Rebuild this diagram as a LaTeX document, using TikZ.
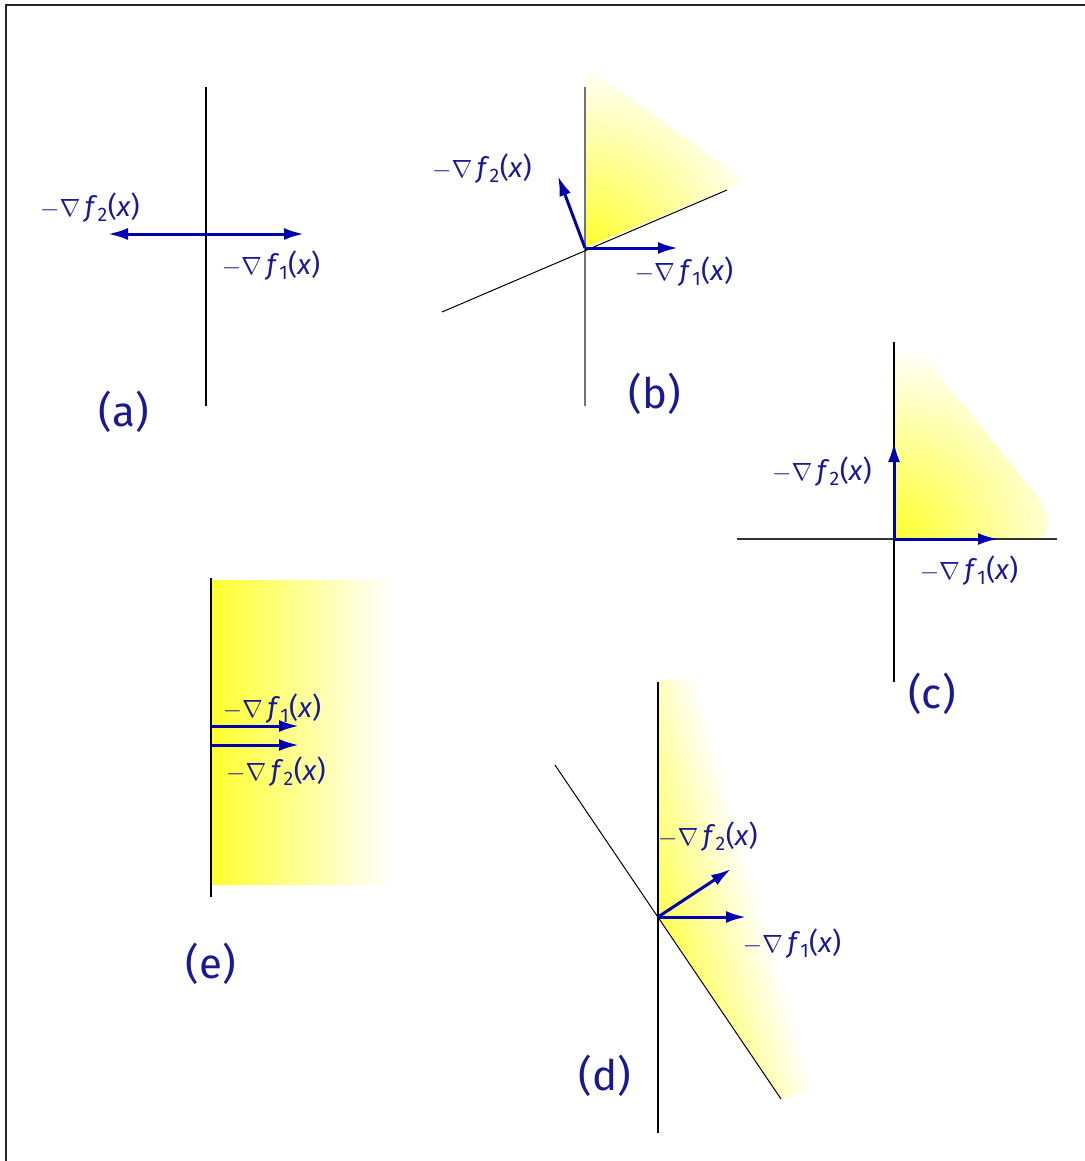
\documentclass[tikz,border=0pt]{standalone}
\usepackage{fontspec}
\setmainfont{Fira Sans}
\usetikzlibrary{arrows.meta,calc}
\definecolor{lblblue}{RGB}{25,25,150}
\definecolor{arrblue}{RGB}{0,0,175}
\definecolor{shadeY}{RGB}{255,255,45}
\newcommand\gradlab[1]{$-\nabla$\,\textit{f}\textsubscript{#1}(\textit{x})}
\tikzset{
  axisline/.style={line width=1.1pt, black},
  vec/.style={line width=3pt, arrblue, -{Latex[length=20pt,width=12pt]}},
  lbl/.style={text=lblblue, font=\fontsize{28}{30}\selectfont, inner sep=0pt},
  panel/.style={text=lblblue, font=\fontsize{42}{46}\selectfont, inner sep=0pt},
}
\begin{document}
\begin{tikzpicture}[x=1pt,y=-1pt]
\useasboundingbox (0,0) rectangle (1084,1161);
% frame
\coordinate (F1) at (6,1175);
\coordinate (F2) at (1100,5);
\draw[line width=1.5pt, black!85] (F1) |- (F2);

% ---------------- panel (a)
\coordinate (Oa) at (206,234);
\coordinate (Va1) at (206,87);
\coordinate (Va2) at (206,406);
\coordinate (Ta1) at (304,234);
\coordinate (Ta2) at (108,234);
\draw[axisline] (Va1) -- (Va2);
\draw[vec] (Oa) -- (Ta1);
\draw[vec] (Oa) -- (Ta2);
\node[lbl] (la2) at (90,208) {\gradlab{2}};
\node[lbl] (la1) at (271,266) {\gradlab{1}};
\node[panel] (pa) at (124,412) {(a)};

% ---------------- panel (b)
\coordinate (Ob) at (585,248);
\begin{scope}
  \clip (585,248) -- (585,66) -- (746,181) -- cycle;
  \shade[inner color=shadeY, outer color=white] (Ob) circle (185pt);
\end{scope}
\coordinate (Vb1) at (585,87);
\coordinate (Vb2) at (585,406);
\coordinate (Db1) at (442,312);
\coordinate (Db2) at (727,190);
\draw[line width=1.3pt, black!55] (Vb1) -- (Vb2);
\draw[line width=1pt, black] (Db1) -- (Db2);
\coordinate (Tb1) at (678,248);
\coordinate (Tb2) at (558,176);
\draw[vec] (Ob) -- (Tb1);
\draw[vec] (Ob) -- (Tb2);
\node[lbl] (lb2) at (482,169) {\gradlab{2}};
\node[lbl] (lb1) at (684,272) {\gradlab{1}};
\node[panel] (pb) at (655,394) {(b)};

% ---------------- panel (c)
\coordinate (Oc) at (894,539);
\begin{scope}
  \clip (894,539) -- (894,350) .. controls (894,336) and (910,336) .. (924,356)
        -- (1036,495) .. controls (1052,515) and (1052,539) .. (1036,539) -- cycle;
  \shade[inner color=shadeY, outer color=white] (Oc) circle (194pt);
\end{scope}
\coordinate (Hc1) at (737,539);
\coordinate (Hc2) at (1057,539);
\coordinate (Vc1) at (894,342);
\coordinate (Vc2) at (894,682);
\draw[line width=1.2pt, black!80] (Hc1) -- (Hc2);
\draw[axisline] (Vc1) -- (Vc2);
\coordinate (Tc1) at (998,539);
\coordinate (Tc2) at (894,442);
\draw[vec] (Oc) -- (Tc1);
\draw[vec] (Oc) -- (Tc2);
\node[lbl] (lc2) at (822,472) {\gradlab{2}};
\node[lbl] (lc1) at (969,571) {\gradlab{1}};
\node[panel] (pc) at (932,694) {(c)};

% ---------------- panel (e)
\shade[left color=shadeY, right color=white] (211,580) rectangle (392,884);
\coordinate (Ve1) at (211,578);
\coordinate (Ve2) at (211,897);
\draw[axisline] (Ve1) -- (Ve2);
\coordinate (Oe1) at (211,726);
\coordinate (Oe2) at (211,745);
\coordinate (Te1) at (299,726);
\coordinate (Te2) at (299,745);
\draw[vec] (Oe1) -- (Te1);
\draw[vec] (Oe2) -- (Te2);
\node[lbl] (le1) at (272,709) {\gradlab{1}};
\node[lbl] (le2) at (276,772) {\gradlab{2}};
\node[panel] (pe) at (211,964) {(e)};

% ---------------- panel (d)
\coordinate (Od) at (658,917);
\coordinate (A) at (700,682);
\begin{scope}
  \clip (658,680) -- (Od) -- (781,1099) -- (818,1088) -- (760,680) -- cycle;
  \foreach \kk in {0,...,50}{
    \pgfmathsetmacro{\uu}{\kk*2.5}
    \pgfmathsetmacro{\pp}{min(100,\kk*2.5/1.25)}
    \fill[shadeY!\pp!white]
      ($(A)+\uu*(-0.961,0.277)-600*(0.277,0.961)$) --
      ($(A)+\uu*(-0.961,0.277)+600*(0.277,0.961)$) --
      ($(A)+400*(-0.961,0.277)+600*(0.277,0.961)$) --
      ($(A)+400*(-0.961,0.277)-600*(0.277,0.961)$) -- cycle;
  }
\end{scope}
\coordinate (Vd1) at (658,682);
\coordinate (Vd2) at (658,1133);
\coordinate (Dd1) at (555,765);
\coordinate (Dd2) at (781,1099);
\draw[axisline] (Vd1) -- (Vd2);
\draw[line width=1pt, black] (Dd1) -- (Dd2);
\coordinate (Td1) at (746,917);
\coordinate (Td2) at (731,869);
\draw[vec] (Od) -- (Td1);
\draw[vec] (Od) -- (Td2);
\node[lbl] (ld2) at (708,837) {\gradlab{2}};
\node[lbl] (ld1) at (792,944) {\gradlab{1}};
\node[panel] (pd) at (605,1076) {(d)};
\end{tikzpicture}
\end{document}
